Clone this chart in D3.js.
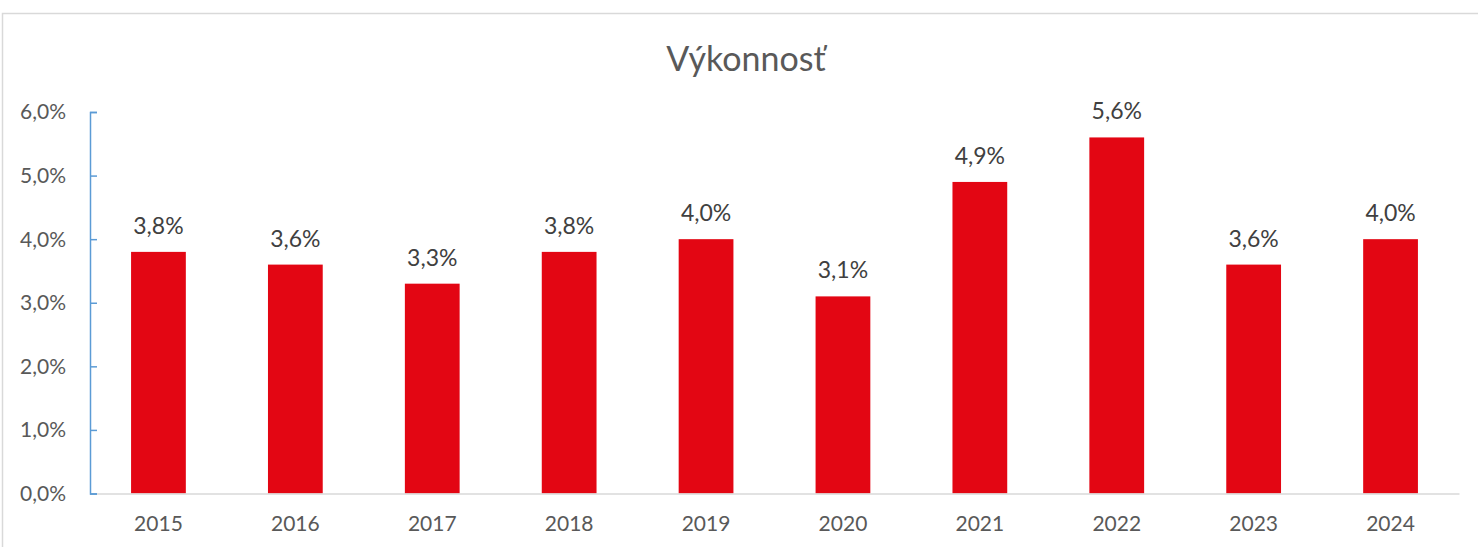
<!DOCTYPE html>
<html>
<head>
<meta charset="utf-8">
<script src="https://cdn.jsdelivr.net/npm/d3@7"></script>
<style>
  body { margin: 0; background: #fff; }
  svg { display: block; font-family: Lato, "Open Sans", sans-serif; }
</style>
</head>
<body>
<div id="chart"></div>
<script>
const years = ['2015', '2016', '2017', '2018', '2019', '2020', '2021', '2022', '2023', '2024'];
const values = [3.8, 3.6, 3.3, 3.8, 4.0, 3.1, 4.9, 5.6, 3.6, 4.0];
const yTicks = [0, 1, 2, 3, 4, 5, 6];

const width = 1478;
const height = 547;
const margin = { top: 112, right: 19, bottom: 53, left: 90 };

const fmt = v => v.toFixed(1).replace('.', ',') + '%';

const svg = d3.select('#chart').append('svg')
    .attr('width', width)
    .attr('height', height);

// chart frame
svg.append('rect')
    .attr('x', 2.5).attr('y', 13.5)
    .attr('width', width + 10).attr('height', height)
    .attr('fill', 'none')
    .attr('stroke', '#d9d9d9')
    .attr('stroke-width', 1.5);

// title
svg.append('text')
    .attr('x', 746)
    .attr('y', 71)
    .attr('text-anchor', 'middle')
    .attr('fill', '#595959')
    .style('font-size', '34px')
    .text('Výkonnosť');

const x = d3.scaleBand()
    .domain(years)
    .range([margin.left, width - margin.right])
    .paddingInner(0.6)
    .paddingOuter(0.3);

const y = d3.scaleLinear()
    .domain([0, 6])
    .range([height - margin.bottom - 0.5, margin.top]);

// bars
svg.selectAll('.bar')
    .data(values)
    .enter()
    .append('rect')
    .attr('class', 'bar')
    .attr('x', (d, i) => x(years[i]))
    .attr('y', d => y(d))
    .attr('width', x.bandwidth())
    .attr('height', d => y(0) - y(d))
    .attr('fill', '#e30613');

// x axis
const xAxis = svg.append('g')
    .attr('transform', `translate(0,${y(0)})`)
    .call(d3.axisBottom(x).tickSize(0).tickPadding(23));
xAxis.select('.domain').attr('stroke', '#d9d9d9').attr('stroke-width', 1.5);
xAxis.selectAll('text')
    .attr('fill', '#595959')
    .style('font-size', '21px')
    .style('font-family', 'Lato, sans-serif');

// y axis (ticks point inward)
const yAxis = svg.append('g')
    .attr('transform', `translate(${margin.left},0)`)
    .call(d3.axisRight(y).tickValues(yTicks).tickSize(7).tickSizeOuter(7).tickFormat(''));
yAxis.select('.domain').attr('stroke', '#5b9bd5').attr('stroke-width', 1.5);
yAxis.selectAll('line').attr('stroke', '#5b9bd5').attr('stroke-width', 1.5);

svg.append('g')
    .selectAll('text')
    .data(yTicks)
    .enter()
    .append('text')
    .attr('x', 66)
    .attr('y', d => y(d))
    .attr('dy', '0.35em')
    .attr('text-anchor', 'end')
    .attr('fill', '#595959')
    .style('font-size', '21px')
    .text(d => fmt(d));

// data labels
svg.selectAll('.label')
    .data(values)
    .enter()
    .append('text')
    .attr('class', 'label')
    .attr('x', (d, i) => x(years[i]) + x.bandwidth() / 2)
    .attr('y', d => y(d) - 18)
    .attr('text-anchor', 'middle')
    .attr('fill', '#404040')
    .style('font-size', '23px')
    .text(d => fmt(d));
</script>
</body>
</html>
